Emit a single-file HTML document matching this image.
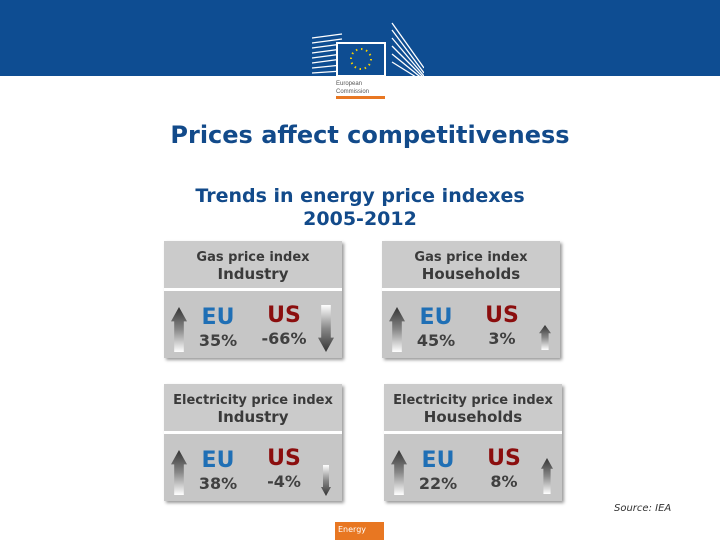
<!DOCTYPE html>
<html><head><meta charset="utf-8"><style>
body{margin:0;width:720px;height:540px;position:relative;background:#fff;font-family:"DejaVu Sans","Liberation Sans",sans-serif;overflow:hidden}
.abs{position:absolute}
.panel{position:absolute;width:178px;height:117px;box-shadow:2px 2px 3px #999}
.ph{position:absolute;left:0;top:0;width:100%;height:47px;background:#cbcbcb;text-align:center;color:#3a3a3a;font-weight:bold;font-size:13px;line-height:17px;padding-top:8px;box-sizing:border-box;white-space:nowrap}
.ph .b{font-size:15px}
.pb{position:absolute;left:0;top:50px;width:100%;height:67px;background:#c6c6c6}
.eu,.us{position:absolute;font-weight:bold;font-size:22px;text-align:center;width:60px}
.eu{color:#1f6fb5}.us{color:#8b0e0e}
.pct{position:absolute;font-weight:bold;font-size:16px;color:#404040;text-align:center;width:60px}
</style></head><body>
<div class="abs" style="left:0;top:0;width:720px;height:76px;background:#0e4d92"></div>
<div class="abs" style="left:312px;top:18px;width:112px;height:82px">
 <svg width="112" height="82">
  <g stroke="#fff" stroke-width="1.3">
   <line x1="0" y1="20" x2="30" y2="16"/><line x1="0" y1="25" x2="30" y2="21"/><line x1="0" y1="30" x2="30" y2="26"/><line x1="0" y1="35" x2="30" y2="31"/><line x1="0" y1="40" x2="30" y2="36"/><line x1="0" y1="45" x2="30" y2="41"/><line x1="0" y1="50" x2="30" y2="47"/><line x1="0" y1="55" x2="30" y2="53"/>
   <line x1="80" y1="5" x2="112" y2="50"/><line x1="80" y1="12" x2="112" y2="55"/><line x1="80" y1="20" x2="112" y2="58"/><line x1="80" y1="28" x2="112" y2="60"/><line x1="80" y1="36" x2="112" y2="62"/><line x1="80" y1="44" x2="112" y2="64"/>
  </g>
  <rect x="24" y="24" width="50" height="35" fill="#fff"/>
  <rect x="26" y="26" width="46" height="31" fill="#0e4d92"/>
  <circle cx="49" cy="41" r="10" fill="none" stroke="#f5d000" stroke-width="2" stroke-dasharray="1.5 3.7"/>
  <rect x="0" y="58" width="112" height="24" fill="#fff"/>
  <text x="24" y="67" font-size="6" fill="#555" font-family="Liberation Sans">European</text>
  <text x="24" y="75" font-size="6" fill="#555" font-family="Liberation Sans">Commission</text>
  <rect x="24" y="78" width="49" height="3" fill="#e87722"/>
 </svg>
</div>
<div class="abs" style="left:0;top:121px;width:740px;text-align:center;color:#124a8a;font-weight:bold;font-size:24px">Prices affect competitiveness</div>
<div class="abs" style="left:160px;top:185px;width:400px;text-align:center;color:#124a8a;font-weight:bold;font-size:19px;line-height:23px">Trends in energy price indexes<br>2005-2012</div>

<svg width="0" height="0" style="position:absolute"><defs>
<linearGradient id="gu" x1="0" y1="0" x2="0" y2="1"><stop offset="0" stop-color="#333"/><stop offset="0.5" stop-color="#888"/><stop offset="1" stop-color="#fff"/></linearGradient>
<linearGradient id="gd" x1="0" y1="1" x2="0" y2="0"><stop offset="0" stop-color="#333"/><stop offset="0.5" stop-color="#888"/><stop offset="1" stop-color="#fff"/></linearGradient>
</defs></svg>

<div id="panels"></div>
<div class="abs" style="left:614px;top:503px;font-size:10px;font-style:italic;color:#333">Source: IEA</div>
<div class="abs" style="left:335px;top:522px;width:49px;height:18px;background:#e87722;color:#fff;font-size:8px;line-height:15px;padding-left:3px;box-sizing:border-box">Energy</div>

<script>
const titles=["Gas price index","Gas price index","Electricity price index","Electricity price index"];
const subtitles=["Industry","Households","Industry","Households"];
const euVals=["35%","45%","38%","22%"];
const usVals=["-66%","3%","-4%","8%"];
const usDir=["down","up","down","up"];
const usSize=["big","small","small","small"];
const pos=[[164,241],[382,241],[164,384],[384,384]];
function arrow(x,y,w,h,dir){
  const s=document.createElementNS("http://www.w3.org/2000/svg","svg");
  s.setAttribute("width",w);s.setAttribute("height",h);
  s.style.position="absolute";s.style.left=x+"px";s.style.top=y+"px";
  const hw=w*0.3,hh=Math.min(h*0.33,w*0.9);
  let p;
  if(dir==="up")p=`M${w/2},0 L${w},${hh} L${w/2+hw},${hh} L${w/2+hw},${h} L${w/2-hw},${h} L${w/2-hw},${hh} L0,${hh} Z`;
  else p=`M${w/2},${h} L${w},${h-hh} L${w/2+hw},${h-hh} L${w/2+hw},0 L${w/2-hw},0 L${w/2-hw},${h-hh} L0,${h-hh} Z`;
  s.innerHTML=`<path d="${p}" fill="url(#${dir==='up'?'gu':'gd'})"/>`;
  return s;
}
const root=document.getElementById("panels");
titles.forEach((t,i)=>{
  const p=document.createElement("div");p.className="panel";
  
  
  p.style.left=pos[i][0]+"px";p.style.top=pos[i][1]+"px";
  p.innerHTML=`<div class="ph">${t}<br><span class="b">${subtitles[i]}</span></div><div class="pb"></div>
  <div class="eu" style="left:24px;top:64px">EU</div><div class="pct" style="left:24px;top:90px">${euVals[i]}</div>
  <div class="us" style="left:90px;top:62px">US</div><div class="pct" style="left:90px;top:88px">${usVals[i]}</div>`;
  const a=arrow(7,66,16,45,"up");
  
  
  p.appendChild(a);
  let b;
  if(usSize[i]==="big")b=arrow(154,64,16,47,usDir[i]);
  else if(usDir[i]==="up")b=arrow(157,i===1?84:74,12,i===1?25:36,"up");
  else b=arrow(157,81,10,31,"down");
  
  
  p.appendChild(b);
  root.appendChild(p);
});
</script>
</body></html>
